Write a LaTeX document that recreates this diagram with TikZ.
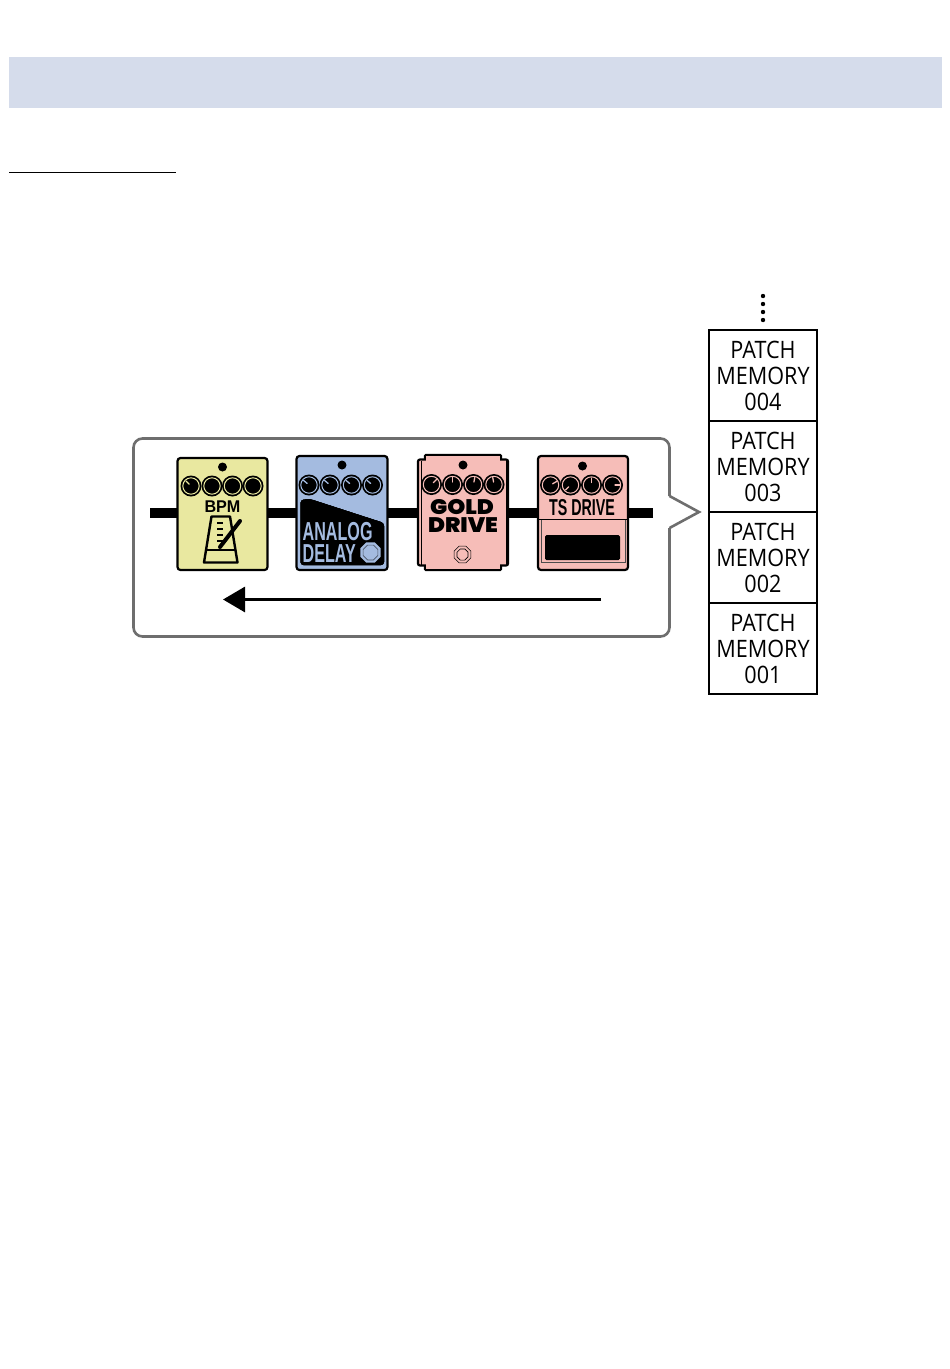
\documentclass[tikz,border=0pt]{standalone}
\usepackage{fontspec}
\setmainfont{Open Sans}
\newfontfamily\patchfont[FakeStretch=0.9]{Open Sans}
\newfontfamily\bpmfont[FakeStretch=0.95]{Liberation Sans}
\newfontfamily\condfont[FakeStretch=0.62]{Liberation Sans}
\newfontfamily\heavyfont[FakeStretch=1.09]{Poppins Black}
\usetikzlibrary{positioning, shapes.geometric, arrows.meta}

\definecolor{bandblue}{HTML}{D5DCEB}
\definecolor{calloutgray}{HTML}{6E6E6E}
\definecolor{pedalyellow}{HTML}{E9E8A0}
\definecolor{pedalblue}{HTML}{A4BBE0}
\definecolor{pedalpink}{HTML}{F6BDB8}

\tikzset{
    pedal/.style={rectangle, draw=black, line width=2.2pt, rounded corners=3pt, inner sep=0pt, outer sep=0pt},
    patch/.style={rectangle, draw=black, line width=1.4pt, minimum width=108pt, minimum height=91pt,
        inner sep=0pt, outer sep=0pt, text width=108pt, align=center, font=\patchfont\fontsize{24}{26}\selectfont},
    wire/.style={draw=black, line width=10pt},
    led/.style={circle, fill=black, inner sep=0pt, minimum size=9pt},
    octagon/.style={regular polygon, regular polygon sides=8, inner sep=0pt}
}

% knob: x, y, pointer angle, colour
\newcommand{\knob}[4]{
    \fill[black] (#1,#2) circle (10.5pt);
    \draw[#4, line width=1pt] (#1,#2) circle (8.2pt);
    \draw[#4, line width=1.3pt, line cap=round] (#1,#2) ++(#3:2.5pt) -- ++(#3:4.6pt);
}

\begin{document}
\begin{tikzpicture}[x=1pt, y=-1pt]
    \useasboundingbox (0,0) rectangle (950,1369);

    % heading
    \fill[bandblue] (9,57) rectangle (942,108);
    \draw[black, line width=1pt] (9,172) -- (176,172);

    % patch memories
    \node [patch] (patchd) at (763,375.5) {PATCH\\MEMORY\\004};
    \node [patch, below=0pt of patchd] (patchc) {PATCH\\MEMORY\\003};
    \node [patch, below=0pt of patchc] (patchb) {PATCH\\MEMORY\\002};
    \node [patch, below=0pt of patchb] (patcha) {PATCH\\MEMORY\\001};
    \foreach \ypos in {296,304,312,320}
        \fill[black] (763,\ypos) circle (2.2pt);

    % callout
    \draw[calloutgray, line width=2.6pt, rounded corners=9pt]
        (669.5,496) -- (669.5,438.5) -- (133.5,438.5) -- (133.5,636.5) -- (669.5,636.5) -- (669.5,528);
    \draw[calloutgray, line width=2.6pt]
        (669.5,496) -- (699,512) -- (669.5,528);

    % pedals
    \coordinate (wirein) at (653,513);
    \coordinate (wireout) at (150,513);
    \node [pedal, fill=pedalyellow, minimum width=90pt, minimum height=112pt] (bpm) at (222.5,514) {};
    \node [pedal, fill=pedalblue, minimum width=91pt, minimum height=114pt] (analog) at (342,513) {};
    \node [pedal, fill=pedalpink, minimum width=76pt, minimum height=115pt, rounded corners=1pt] (goldtop) at (463,512.5) {};
    \node [pedal, fill=pedalpink, minimum width=90pt, minimum height=106pt, rounded corners=2pt] (gold) at (463,512.5) {};
    \fill[pedalpink] (426,456) rectangle (500,569);
    \node [pedal, fill=pedalpink, minimum width=90pt, minimum height=114pt] (tsdrive) at (583,513) {};

    \draw[wire] (wirein) -- (wirein -| tsdrive.east);
    \draw[wire] (wirein -| tsdrive.west) -- (wirein -| gold.east);
    \draw[wire] (wirein -| gold.west) -- (wirein -| analog.east);
    \draw[wire] (wirein -| analog.west) -- (wirein -| bpm.east);
    \draw[wire] (wirein -| bpm.west) -- (wireout);

    % BPM pedal
    \node [led] (bpmled) at (222.5,467) {};
    \knob{191}{486}{135}{pedalyellow}
    \foreach \xpos in {212,232.5,253} {
        \fill[black] (\xpos,486) circle (10.5pt);
        \draw[pedalyellow, line width=1pt] (\xpos,486) circle (8.2pt);
    }
    \node [inner sep=0pt, font=\bpmfont\bfseries\fontsize{17}{17}\selectfont] (bpmlabel) at (222.5,506.5) {BPM};
    \draw[black, line width=2.4pt, line join=round]
        (211.5,516.5) -- (230,516.5) -- (237.5,562.5) -- (204,562.5) -- cycle;
    \draw[black, line width=2.4pt] (206,550) -- (235.5,550);
    \foreach \ypos in {523,529,535,541}
        \draw[black, line width=1.6pt] (217,\ypos) -- (223,\ypos);
    \draw[black, line width=4pt, line cap=round] (240,521) -- (220,547);

    % ANALOG DELAY pedal
    \node [led] (analogled) at (342,465) {};
    \foreach \xpos in {309,330,351.5,372.5}
        \knob{\xpos}{485}{140}{pedalblue}
    \fill[black, rounded corners=3pt] (300.5,500) -- (310,499) -- (384,523) -- (384,565) -- (300.5,565) -- cycle;
    \node [inner sep=0pt, anchor=west, text=pedalblue, align=left,
        font=\condfont\bfseries\fontsize{26}{21.5}\selectfont] (analoglabel)
        at (302.5,542.5) {ANALOG\\DELAY};
    \node [octagon, fill=pedalblue, minimum size=22pt] (analogswitch) at (370.5,552.5) {};
    \node [octagon, draw=pedalblue!45!black, fill=pedalblue, line width=0.7pt, minimum size=16pt] (analogcap) at (370.5,552.5) {};

    % GOLD DRIVE pedal
    \node [led] (goldled) at (463,465) {};
    \knob{431.5}{484.5}{45}{pedalpink}
    \knob{452.5}{484.5}{90}{pedalpink}
    \knob{473.5}{484.5}{80}{pedalpink}
    \knob{494}{484.5}{100}{pedalpink}
    \draw[black, line width=0.8pt] (421,461) -- (421,565);
    \draw[black, line width=0.8pt] (506,461) -- (506,565);
    \node [inner sep=0pt, font=\heavyfont\fontsize{21}{21}\selectfont] (goldlabel) at (462,507) {GOLD};
    \node [inner sep=0pt, font=\heavyfont\fontsize{21}{21}\selectfont] (drivelabel) at (463,525.5) {DRIVE};
    \node [octagon, draw=black, line width=0.6pt, minimum size=18pt] (goldswitch) at (462.5,554.5) {};
    \node [octagon, draw=black, line width=0.6pt, minimum size=12pt] (goldcap) at (462.5,554.5) {};

    % TS DRIVE pedal
    \node [led] (tsled) at (582.5,466) {};
    \knob{550.5}{485}{30}{pedalpink}
    \knob{570.5}{485}{225}{pedalpink}
    \knob{591.5}{485}{90}{pedalpink}
    \knob{612.5}{485}{0}{pedalpink}
    \node [inner sep=0pt, font=\condfont\bfseries\fontsize{23}{23}\selectfont] (tslabel) at (582,507.5) {TS DRIVE};
    \draw[black, line width=1.2pt] (538,519.5) -- (628,519.5);
    \draw[black!70, line width=0.8pt] (541,520) -- (541,562) -- (625,562) -- (625,520);
    \fill[black, rounded corners=1.5pt] (545,535) rectangle (620,560);

    % direction
    \coordinate (flowstart) at (601,599.5);
    \coordinate (flowend) at (223,599.5);
    \draw[black, line width=3pt, -{Triangle[length=22pt, width=25pt]}] (flowstart) -- (flowend);
\end{tikzpicture}
\end{document}
